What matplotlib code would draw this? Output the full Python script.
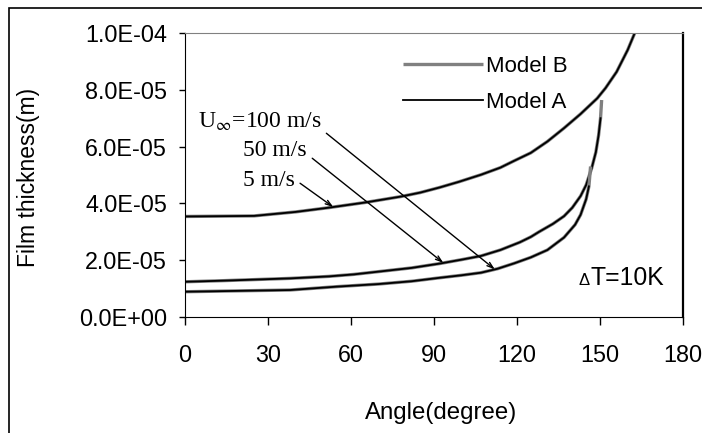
import numpy as np
import matplotlib
matplotlib.use("Agg")
import matplotlib.pyplot as plt
from matplotlib.patches import Rectangle

plt.rcParams["font.family"] = ["Liberation Sans", "DejaVu Sans"]
plt.rcParams["mathtext.fontset"] = "stix"

# film thickness vs angle, values in 1e-6 m
ang_5 = [0, 25, 40, 52, 65, 78, 85, 92, 99, 107, 114, 119, 125, 131, 137, 143, 149, 152, 156, 160, 163]
val_5 = [35.4, 35.6, 37.0, 38.5, 40.3, 42.4, 43.8, 45.6, 47.6, 50.1, 52.6, 55.0, 57.8, 61.8,
         66.5, 71.5, 77.0, 80.6, 86.3, 94.0, 101]

ang_50 = [0, 14, 38, 52, 61, 72, 82, 92, 100, 107, 114, 121, 125, 128, 133, 137, 140, 143,
          145, 147, 148.5, 149.5, 150.2, 150.6]
val_50 = [12.4, 12.8, 13.6, 14.3, 15.0, 16.2, 17.3, 18.8, 20.2, 21.5, 23.6, 26.3, 28.2, 30.0,
          32.8, 35.5, 38.5, 42.6, 46.5, 52.4, 58.0, 64.0, 70.0, 76.4]

ang_100 = [0, 38, 55, 70, 82, 92, 100, 107, 113, 119, 125, 131, 137, 141, 143, 145, 146, 146.6]
val_100 = [8.9, 9.5, 10.7, 11.6, 12.6, 13.8, 14.7, 15.6, 17.0, 18.9, 21.0, 23.6, 28.0, 32.5,
           36.0, 41.5, 46.0, 53.0]

# model A ends a little earlier than model B near the singular point
end_a_50 = len(ang_50) - 1
end_a_100 = len(ang_100) - 1

y_ticks = [0, 2e-5, 4e-5, 6e-5, 8e-5, 1e-4]
x_ticks = [0, 30, 60, 90, 120, 150, 180]

fig = plt.figure(figsize=(7.02, 4.33), dpi=100)
ax = fig.add_axes([0.2635, 0.2679, 0.7094, 0.6559])

scale = 1e-6
series = [(ang_5, val_5, len(ang_5)), (ang_50, val_50, end_a_50), (ang_100, val_100, end_a_100)]
for i, (a, v, n) in enumerate(series):
    a = np.array(a)
    v = np.array(v) * scale
    ax.plot(a, v, color="#808080", lw=2.4, solid_capstyle="butt",
            label="Model B" if i == 0 else None)
    ax.plot(a[:n], v[:n], color="black", lw=1.3,
            label="Model A" if i == 0 else None)

ax.set_xlim(0, 180)
ax.set_ylim(0, 1e-4)
ax.set_xticks(x_ticks)
ax.set_yticks(y_ticks)
ax.set_yticklabels(["{:.1E}".format(t) for t in y_ticks])
ax.tick_params(axis="x", direction="out", length=5.5, width=1, pad=14, labelsize=16.8)
ax.tick_params(axis="y", direction="out", length=4.3, width=1, pad=8.5, labelsize=16.8)
ax.spines["top"].set_color("#808080")
ax.spines["right"].set_linewidth(1.6)

# annotations
def on_curve(a, v, x):
    return np.interp(x, a, v) * scale

serif = ["Liberation Serif", "DejaVu Serif"]
arrow = dict(arrowstyle="->,head_length=0.45,head_width=0.15", color="black", lw=1,
             shrinkA=0, shrinkB=0)
ax.annotate("", xy=(112, on_curve(ang_100, val_100, 112)), xytext=(51.1, 64.7e-6),
            arrowprops=arrow)
ax.annotate("", xy=(93.4, on_curve(ang_50, val_50, 93.4)), xytext=(46.0, 55.9e-6),
            arrowprops=arrow)
ax.annotate("", xy=(53.6, on_curve(ang_5, val_5, 53.6)), xytext=(41.6, 47.1e-6),
            arrowprops=arrow)
ax.text(4.7, 68.7e-6, r"U$_{\infty}$=100 m/s", family=serif, fontsize=17, va="center")
ax.text(21.0, 58.5e-6, "50 m/s", family=serif, fontsize=17, va="center")
ax.text(21.0, 48.2e-6, "5 m/s", family=serif, fontsize=17, va="center")

ax.text(146.4, 11.3e-6, "T=10K", fontsize=17.8, ha="left", va="baseline")
ax.text(146.2, 11.3e-6, "\u0394", fontsize=12, ha="right", va="baseline")

ax.legend(loc="upper left", bbox_to_anchor=(403 / 702, 1 - 56 / 433),
          bbox_transform=fig.transFigure, frameon=False, fontsize=16,
          handlelength=3.6, handletextpad=0.15, labelspacing=0.68, borderpad=0,
          borderaxespad=0)

fig.text(441 / 702, 1 - 413 / 433, "Angle(degree)", fontsize=17.3, ha="center", va="center")
fig.text(29 / 702, 1 - 177.5 / 433, "Film thickness(m)", fontsize=16.5, rotation=90,
         ha="center", va="center")

fig.patches.append(Rectangle((9 / 702, -0.2), 1.2, 1.2 - 8 / 433,
                             transform=fig.transFigure, fill=False, lw=1.2,
                             edgecolor="black"))

fig.savefig("out.png", dpi=100)
